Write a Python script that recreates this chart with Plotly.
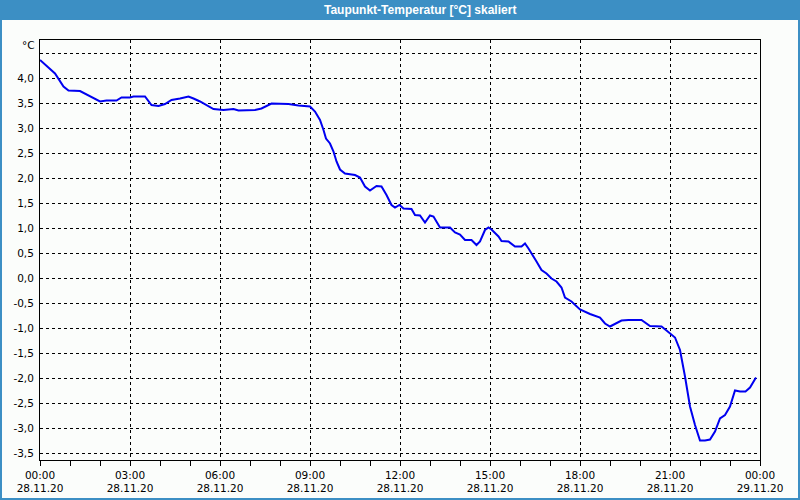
import plotly.graph_objects as go

# ---- data ----
times = ["00:00","00:30","00:47","00:57","01:20","01:30","01:43","02:00","02:13","02:33",
         "02:43","03:00","03:07","03:30","03:43","03:57","04:10","04:23","04:40","04:57",
         "05:07","05:20","05:47","06:07","06:27","06:37","07:10","07:23","07:43","08:17",
         "08:37","09:00","09:10","09:20","09:27","09:32","09:40","09:47","09:53","10:00",
         "10:10","10:30","10:40","10:50","11:00","11:13","11:23","11:33","11:43","11:50",
         "11:59","12:07","12:23","12:30","12:40","12:50","13:00","13:07","13:20","13:40",
         "13:50","14:00","14:10","14:23","14:33","14:40","14:50","14:57","15:03","15:17",
         "15:23","15:37","15:50","16:03","16:10","16:17","16:33","16:43","16:53","17:03",
         "17:13","17:23","17:30","17:43","18:00","18:20","18:40","18:50","19:00","19:10",
         "19:23","19:37","20:03","20:20","20:43","20:53","21:03","21:10","21:20","21:25",
         "21:30","21:35","21:40","21:50","22:00","22:10","22:20","22:30","22:40","22:50",
         "23:00","23:10","23:20","23:31","23:40","23:52"]
dewpoint = [4.36,4.09,3.83,3.75,3.74,3.69,3.61,3.53,3.55,3.55,
            3.61,3.61,3.63,3.63,3.46,3.44,3.48,3.56,3.59,3.63,
            3.59,3.53,3.38,3.36,3.38,3.35,3.36,3.39,3.49,3.48,
            3.45,3.43,3.33,3.16,2.96,2.79,2.69,2.53,2.33,2.17,
            2.09,2.06,2.01,1.83,1.75,1.84,1.83,1.66,1.46,1.41,
            1.46,1.39,1.38,1.26,1.25,1.11,1.25,1.23,1.01,1.01,
            0.91,0.87,0.76,0.76,0.66,0.73,0.96,1.01,0.97,0.83,
            0.74,0.73,0.63,0.63,0.69,0.59,0.33,0.16,0.09,-0.01,
            -0.07,-0.19,-0.39,-0.47,-0.63,-0.72,-0.79,-0.91,-0.97,-0.92,
            -0.85,-0.84,-0.84,-0.96,-0.97,-1.05,-1.14,-1.19,-1.44,-1.67,
            -1.97,-2.27,-2.57,-2.94,-3.25,-3.25,-3.23,-3.07,-2.81,-2.74,
            -2.57,-2.25,-2.27,-2.27,-2.19,-1.99]
x_tick_vals = ["2020-11-28 00:00","2020-11-28 03:00","2020-11-28 06:00","2020-11-28 09:00",
               "2020-11-28 12:00","2020-11-28 15:00","2020-11-28 18:00","2020-11-28 21:00",
               "2020-11-29 00:00"]
x_tick_text = ["00:00<br>28.11.20","03:00<br>28.11.20","06:00<br>28.11.20","09:00<br>28.11.20",
               "12:00<br>28.11.20","15:00<br>28.11.20","18:00<br>28.11.20","21:00<br>28.11.20",
               "00:00<br>29.11.20"]
y_tick_vals = [-3.5,-3.0,-2.5,-2.0,-1.5,-1.0,-0.5,0.0,0.5,1.0,1.5,2.0,2.5,3.0,3.5,4.0,4.5]
y_tick_text = ["-3,5","-3,0","-2,5","-2,0","-1,5","-1,0","-0,5","0,0","0,5","1,0","1,5",
               "2,0","2,5","3,0","3,5","4,0",""]
title_text = "Taupunkt-Temperatur [°C] skaliert"
unit_text = "°C"

# ---- figure ----
W, H = 800, 500
ML, MR, MT, MB = 40, 40, 40, 40
PW, PH = W - ML - MR, H - MT - MB

def px(x):  # pixel x -> paper
    return (x - ML) / PW

def py(y):  # pixel y (from top) -> paper
    return (H - MB - y) / PH

xs = ["2020-11-28 " + t for t in times]

fig = go.Figure(go.Scatter(x=xs, y=dewpoint, mode="lines",
                           line=dict(color="#0000f0", width=2), hoverinfo="skip"))

font = dict(family="DejaVu Sans, Liberation Sans, sans-serif", size=10.5, color="#000000")
blue = "#3c8fc4"

fig.update_layout(
    width=W, height=H,
    margin=dict(l=ML, r=MR, t=MT, b=MB),
    paper_bgcolor="#fbfdfb", plot_bgcolor="#fbfdfb",
    showlegend=False, font=font,
    xaxis=dict(range=["2020-11-28 00:00", "2020-11-29 00:00"],
               tickvals=x_tick_vals, ticktext=x_tick_text, automargin=False,
               showgrid=True, gridcolor="#000000", gridwidth=1, griddash="3px,3px",
               showline=True, linecolor="#000000", linewidth=1, mirror=True,
               ticks="outside", ticklen=5, tickcolor="#000000", tickfont=font,
               minor=dict(dtick=3600000, ticks="outside", ticklen=5, tickcolor="#000000",
                          showgrid=False),
               zeroline=False, fixedrange=True),
    yaxis=dict(range=[-3.64, 4.76], automargin=False,
               tickvals=y_tick_vals, ticktext=y_tick_text,
               showgrid=True, gridcolor="#000000", gridwidth=1, griddash="3px,3px",
               showline=True, linecolor="#000000", linewidth=1, mirror=True,
               ticks="", ticklabelstandoff=3, tickfont=font,
               zeroline=False, fixedrange=True),
    shapes=[
        dict(type="rect", xref="paper", yref="paper",
             x0=px(0), x1=px(W), y0=py(20), y1=py(0),
             fillcolor=blue, line=dict(width=0), layer="below"),
        dict(type="rect", xref="paper", yref="paper",
             x0=px(1), x1=px(W - 1), y0=py(H - 1), y1=py(1),
             fillcolor="rgba(0,0,0,0)", line=dict(color=blue, width=2)),
    ],
    annotations=[
        dict(text="<b>" + title_text + "</b>", xref="paper", yref="paper",
             x=px(420), y=py(10), xanchor="center", yanchor="middle", showarrow=False,
             font=dict(family="Liberation Sans, Arial, sans-serif", size=12, color="#ffffff")),
        dict(text=unit_text, xref="paper", yref="paper",
             x=px(37), y=py(45), xanchor="right", yanchor="middle", showarrow=False,
             font=font),
    ],
)

fig.write_html("out.html")
